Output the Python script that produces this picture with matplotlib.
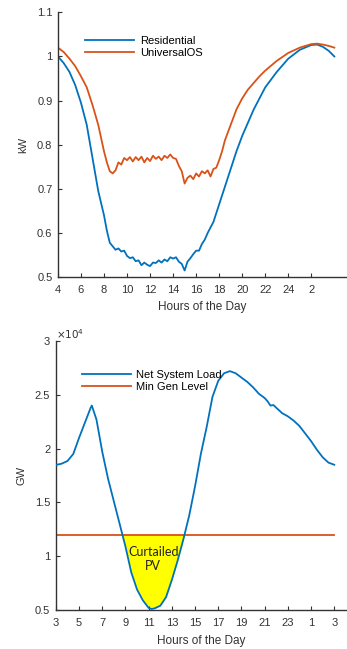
import numpy as np
import matplotlib
matplotlib.use("Agg")
import matplotlib.pyplot as plt
import matplotlib.ticker as ticker

# ---- top panel: household load (kW) ----
res_hours = [4, 4.5, 5, 5.5, 6, 6.5, 7, 7.5, 8, 8.25, 8.5, 8.75, 9, 9.25, 9.5, 9.75,
             10, 10.25, 10.5, 10.75, 11, 11.25, 11.5, 11.75, 12, 12.25, 12.5, 12.75,
             13, 13.25, 13.5, 13.75, 14, 14.25, 14.5, 14.75, 15, 15.25, 15.5, 15.75,
             16, 16.25, 16.5, 16.75, 17, 17.5, 18, 18.5, 19, 19.5, 20, 20.5, 21, 21.5,
             22, 23, 24, 25, 26, 26.5, 27, 27.5, 28]
residential = [1.0, 0.985, 0.965, 0.935, 0.895, 0.845, 0.77, 0.695, 0.64, 0.605, 0.578, 0.57,
               0.562, 0.565, 0.558, 0.56, 0.548, 0.543, 0.545, 0.536, 0.538, 0.527, 0.533,
               0.528, 0.525, 0.533, 0.532, 0.538, 0.533, 0.54, 0.536, 0.545, 0.542, 0.545,
               0.535, 0.53, 0.515, 0.535, 0.543, 0.552, 0.56, 0.56, 0.575, 0.585, 0.6,
               0.625, 0.665, 0.705, 0.745, 0.785, 0.82, 0.85, 0.88, 0.905, 0.93, 0.965,
               0.995, 1.015, 1.026, 1.027, 1.022, 1.013, 1.0]

uos_hours = [4, 4.5, 5, 5.5, 6, 6.5, 7, 7.5, 8, 8.25, 8.5, 8.75, 9, 9.25, 9.5, 9.75,
             10, 10.25, 10.5, 10.75, 11, 11.25, 11.5, 11.75, 12, 12.25, 12.5, 12.75,
             13, 13.25, 13.5, 13.75, 14, 14.25, 14.5, 14.75, 15, 15.25, 15.5, 15.75,
             16, 16.25, 16.5, 16.75, 17, 17.25, 17.5, 17.75, 18, 18.25, 18.5, 19, 19.5,
             20, 20.5, 21, 21.5, 22, 23, 24, 25, 26, 26.5, 27, 27.5, 28]
universal_os = [1.02, 1.01, 0.995, 0.978, 0.955, 0.93, 0.89, 0.845, 0.785, 0.76, 0.74, 0.735,
                0.742, 0.76, 0.755, 0.77, 0.765, 0.772, 0.762, 0.772, 0.765, 0.773, 0.76,
                0.77, 0.763, 0.775, 0.768, 0.773, 0.765, 0.775, 0.77, 0.778, 0.77, 0.768,
                0.752, 0.74, 0.712, 0.725, 0.73, 0.722, 0.735, 0.728, 0.74, 0.735, 0.742,
                0.728, 0.745, 0.748, 0.765, 0.785, 0.81, 0.845, 0.88, 0.905, 0.925, 0.94,
                0.955, 0.968, 0.99, 1.008, 1.02, 1.028, 1.029, 1.027, 1.024, 1.02]

top_ticks = [4, 6, 8, 10, 12, 14, 16, 18, 20, 22, 24, 26]
top_tick_labels = ["4", "6", "8", "10", "12", "14", "16", "18", "20", "22", "24", "2"]

# ---- bottom panel: system load ----
net_hours = [3, 3.5, 4, 4.5, 5, 5.5, 6, 6.1, 6.5, 7, 7.5, 8, 8.5, 9, 9.5, 10, 10.5, 11,
             11.25, 11.5, 12, 12.5, 13, 13.5, 14, 14.5, 15, 15.5, 16, 16.5, 17, 17.5, 18,
             18.5, 19, 19.5, 20, 20.5, 21, 21.25, 21.5, 21.75, 22, 22.5, 23, 23.5, 24,
             24.5, 25, 25.5, 26, 26.5, 27]
net_load = [18480, 18600, 18850, 19500, 21000, 22400, 23800, 24000, 22700, 19700, 17200,
            15100, 13000, 10900, 8500, 6900, 5900, 5200, 5100, 5150, 5400, 6200, 7800,
            9600, 11600, 13800, 16500, 19500, 22000, 24800, 26300, 27000, 27200, 27000,
            26600, 26200, 25700, 25100, 24700, 24400, 24000, 24050, 23800, 23300, 23000,
            22600, 22100, 21400, 20700, 19900, 19200, 18700, 18500]
min_gen = 12000

bot_ticks = [3, 5, 7, 9, 11, 13, 15, 17, 19, 21, 23, 25, 27]
bot_tick_labels = ["3", "5", "7", "9", "11", "13", "15", "17", "19", "21", "23", "1", "3"]

BLUE = "#0072BD"
ORANGE = "#D95319"
DARK = "#333333"

plt.rcParams["font.family"] = ["Liberation Sans", "DejaVu Sans"]
plt.rcParams["font.size"] = 8

fig = plt.figure(figsize=(3.47, 6.49), dpi=100)
fig.patch.set_facecolor("white")


def style_axes(ax):
    for s in ["top", "right"]:
        ax.spines[s].set_visible(False)
    for s in ["bottom", "left"]:
        ax.spines[s].set_color(DARK)
        ax.spines[s].set_linewidth(1.0)
    ax.tick_params(direction="in", length=3, width=0.8, colors=DARK, labelsize=8)
    ax.tick_params(axis="x", pad=6)
    ax.tick_params(axis="y", pad=4)


# top
ax1 = fig.add_axes([0.167, 0.573, 0.833, 0.408])
ax1.plot(res_hours, residential, color=BLUE, linewidth=1.3, label="Residential")
ax1.plot(uos_hours, universal_os, color=ORANGE, linewidth=1.3, label="UniversalOS")
ax1.set_xlim(4, 29.1)
ax1.set_ylim(0.5, 1.1)
ax1.set_xticks(top_ticks)
ax1.set_xticklabels(top_tick_labels)
ax1.set_yticks([0.5, 0.6, 0.7, 0.8, 0.9, 1.0, 1.1])
ax1.yaxis.set_major_formatter(ticker.FuncFormatter(lambda v, p: f"{v:g}"))
ax1.set_xlabel("Hours of the Day", color=DARK, fontsize=8.5, labelpad=4)
ax1.set_ylabel("kW", color=DARK, fontsize=8, labelpad=6)
style_axes(ax1)
ax1.legend(loc="upper left", bbox_to_anchor=(0.06, 0.95), frameon=False, fontsize=8,
           handlelength=4.4, handletextpad=0.5, labelspacing=0.2)

# bottom
ax2 = fig.add_axes([0.161, 0.060, 0.839, 0.4146])
ax2.fill_between(net_hours, net_load, min_gen,
                 where=np.array(net_load) < min_gen, interpolate=True,
                 color="#FFFF00", linewidth=0, zorder=1)
ax2.plot(net_hours, net_load, color=BLUE, linewidth=1.3, label="Net System Load", zorder=3)
ax2.plot([net_hours[0], net_hours[-1]], [min_gen, min_gen], color=ORANGE, linewidth=1.3,
         label="Min Gen Level", zorder=2)
ax2.set_xlim(3, 28.1)
ax2.set_ylim(5000, 30000)
ax2.set_xticks(bot_ticks)
ax2.set_xticklabels(bot_tick_labels)
ax2.set_yticks([5000, 10000, 15000, 20000, 25000, 30000])
ax2.yaxis.set_major_formatter(ticker.FuncFormatter(lambda v, p: f"{v / 1e4:g}"))
ax2.text(0.0, 1.0, r"$\times10^4$", transform=ax2.transAxes, fontsize=7.5,
         color=DARK, ha="left", va="bottom")
ax2.set_xlabel("Hours of the Day", color=DARK, fontsize=8.5, labelpad=5)
ax2.set_ylabel("GW", color=DARK, fontsize=8, labelpad=6)
style_axes(ax2)
ax2.legend(loc="upper left", bbox_to_anchor=(0.055, 0.93), frameon=False, fontsize=8,
           handlelength=4.4, handletextpad=0.5, labelspacing=0.2)
ax2.text(11.4, 9700, "Curtailed\nPV", fontsize=9, family=["Lato", "DejaVu Sans"],
         ha="center", va="center", color="#222222", linespacing=1.2, zorder=4)

fig.savefig("out.png", dpi=100, facecolor="white")
